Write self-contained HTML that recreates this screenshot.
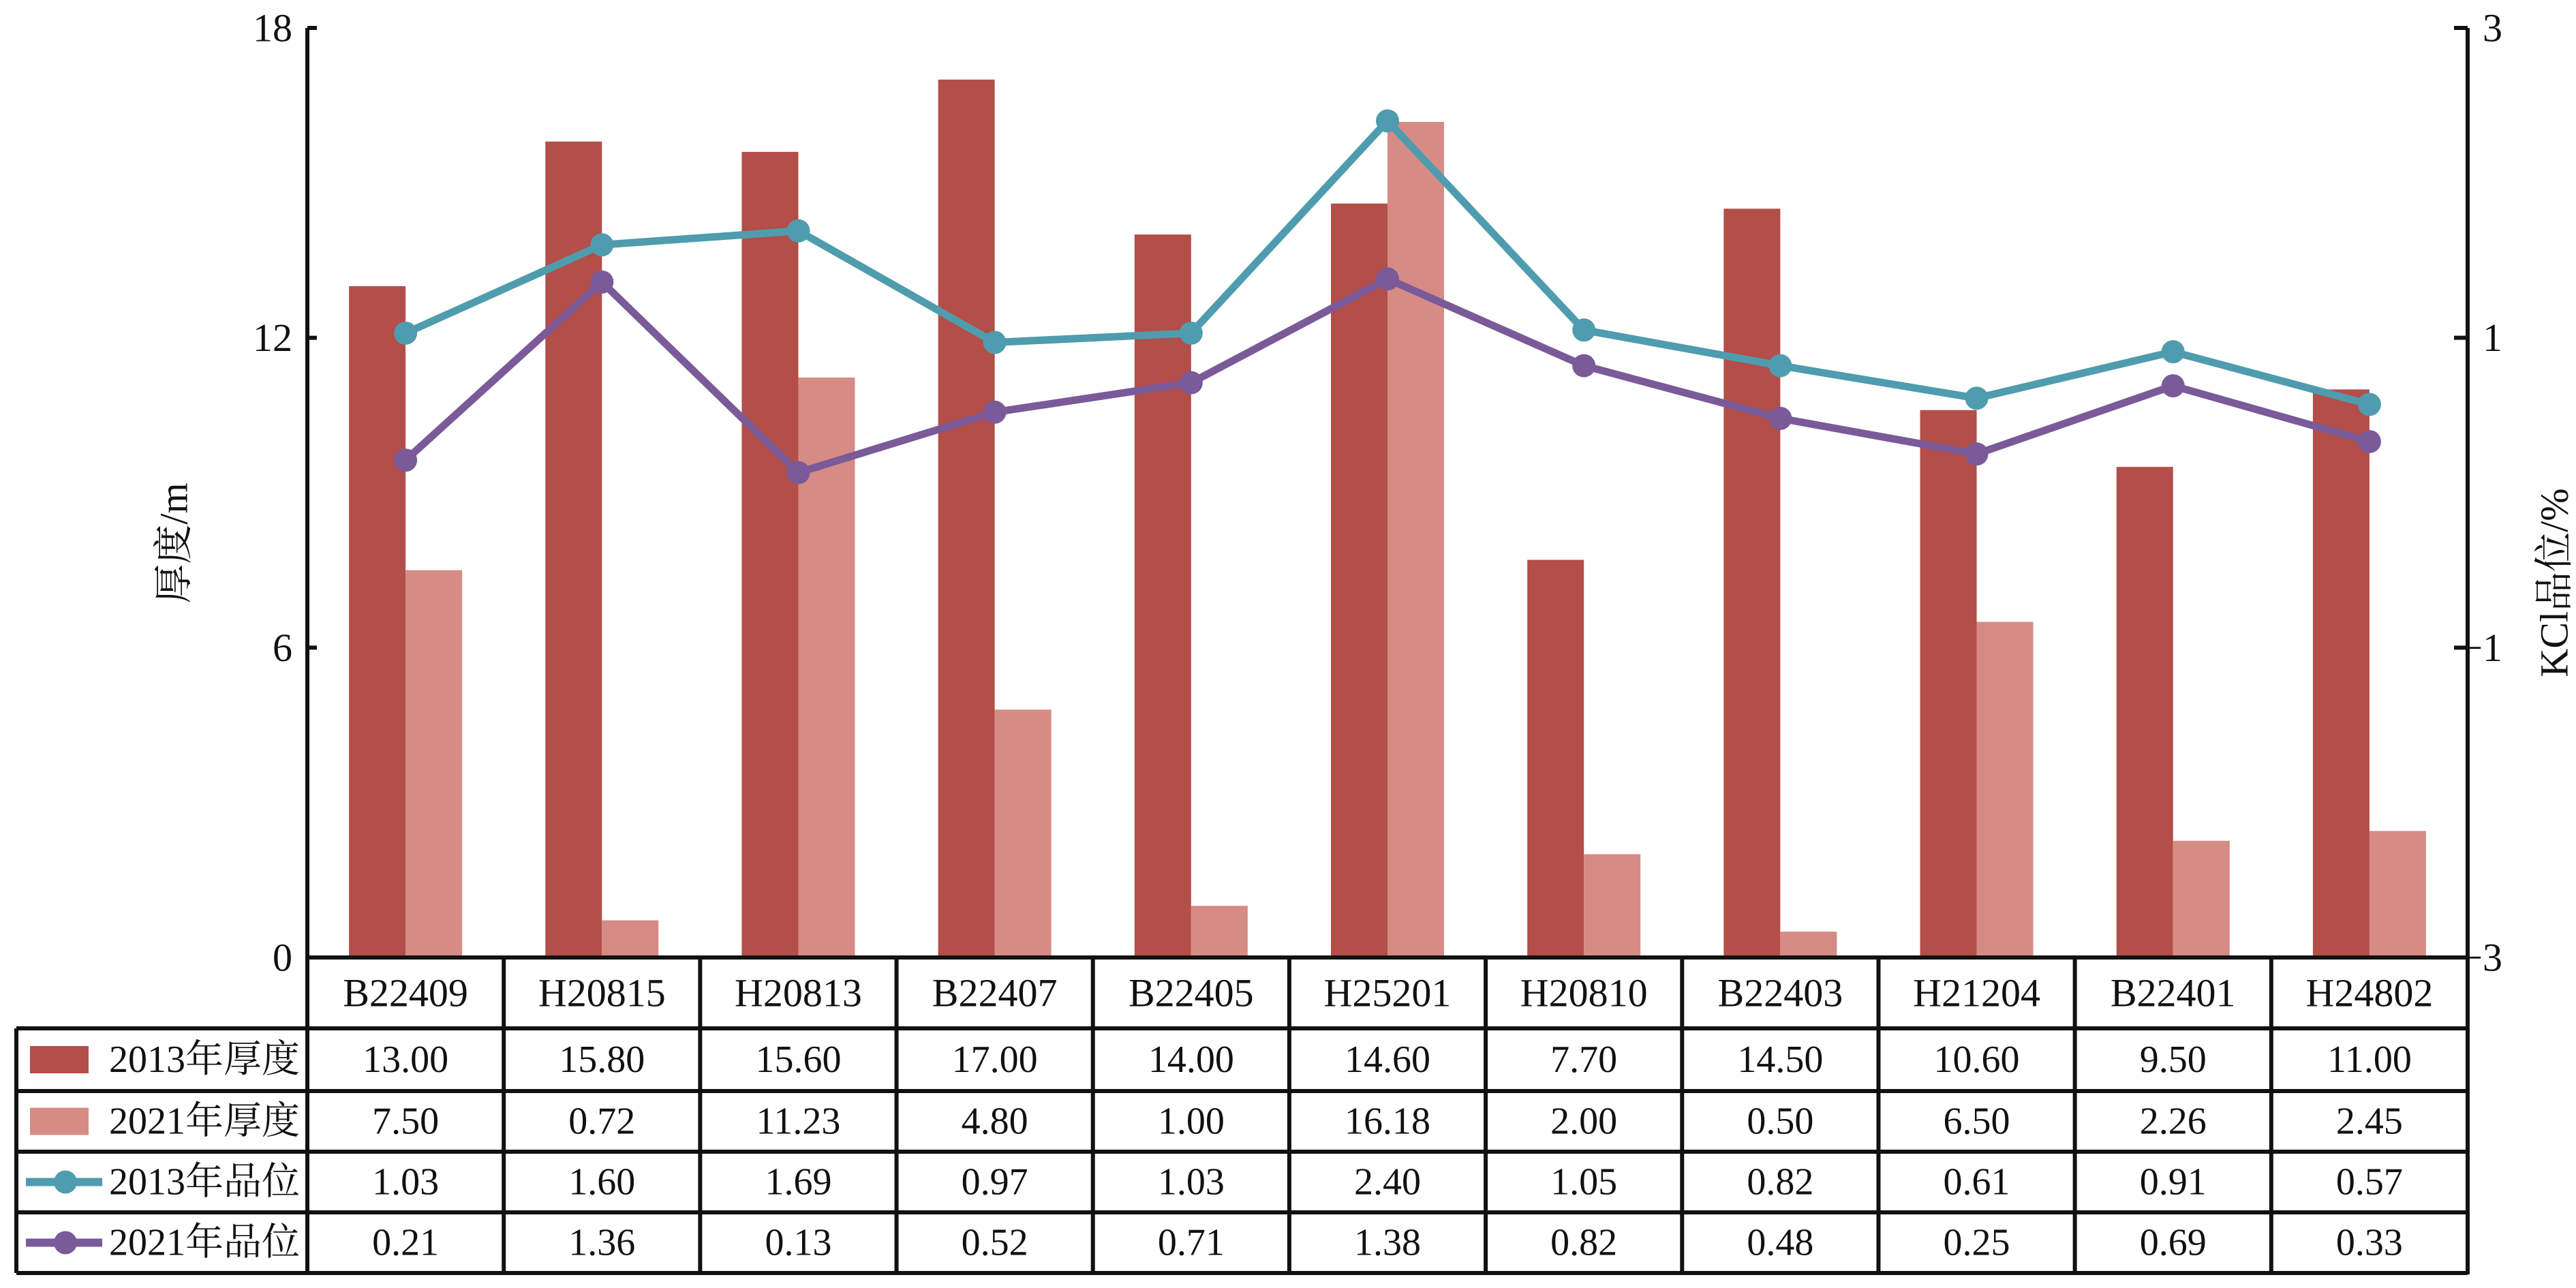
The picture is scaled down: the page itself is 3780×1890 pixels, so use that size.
<!DOCTYPE html>
<html><head><meta charset="utf-8"><style>
html,body{margin:0;padding:0;background:#fff;}
svg{display:block;font-family:"Liberation Serif","Noto Serif CJK SC",serif;}
</style></head><body>
<svg id="chart" width="3780" height="1890" viewBox="0 0 3780 1890" xmlns="http://www.w3.org/2000/svg"></svg>
<script>
const categories = ["B22409","H20815","H20813","B22407","B22405","H25201","H20810","B22403","H21204","B22401","H24802"];
const thick2013 = [13.00,15.80,15.60,17.00,14.00,14.60,7.70,14.50,10.60,9.50,11.00];
const thick2021 = [7.50,0.72,11.23,4.80,1.00,16.18,2.00,0.50,6.50,2.26,2.45];
const grade2013 = [1.03,1.60,1.69,0.97,1.03,2.40,1.05,0.82,0.61,0.91,0.57];
const grade2021 = [0.21,1.36,0.13,0.52,0.71,1.38,0.82,0.48,0.25,0.69,0.33];
const leftTicks = [0,6,12,18];
const rightTicks = [-3,-1,1,3];
const thickLabels = ["13.00","15.80","15.60","17.00","14.00","14.60","7.70","14.50","10.60","9.50","11.00"];
const thick21Labels = ["7.50","0.72","11.23","4.80","1.00","16.18","2.00","0.50","6.50","2.26","2.45"];
const g13Labels = ["1.03","1.60","1.69","0.97","1.03","2.40","1.05","0.82","0.61","0.91","0.57"];
const g21Labels = ["0.21","1.36","0.13","0.52","0.71","1.38","0.82","0.48","0.25","0.69","0.33"];

const svg = document.getElementById('chart');
const NS = 'http://www.w3.org/2000/svg';
const X0 = 451, X1 = 3621, Y0 = 1405, Y1 = 41;
const colW = (X1 - X0) / categories.length;
const yL = v => Y0 - (v - 0) / 18 * (Y0 - Y1);
const yR = v => Y0 - (v + 3) / 6 * (Y0 - Y1);
const xc = i => X0 + colW * (i + 0.5);
const C1 = '#b34e48', C2 = '#d68b85', CT = '#4f9cae', CP = '#7a5a98';
function mk(tag, attrs, parent) {
  const e = document.createElementNS(NS, tag);
  for (const k in attrs) e.setAttribute(k, attrs[k]);
  (parent || svg).appendChild(e);
  return e;
}
function txt(s, x, y, size, anchor, parent) {
  const t = mk('text', {x: x, y: y, 'font-size': size, 'text-anchor': anchor || 'middle', fill: '#111', 'dominant-baseline': 'central'}, parent);
  t.textContent = s;
  return t;
}
// bars
const bw = 83;
categories.forEach((c, i) => {
  const b1 = mk('rect', {x: xc(i) - bw, y: yL(thick2013[i]), width: bw, height: Y0 - yL(thick2013[i]), fill: C1});
  
  
  const b2 = mk('rect', {x: xc(i), y: yL(thick2021[i]), width: bw, height: Y0 - yL(thick2021[i]), fill: C2});
  
  
});
// lines
function series(vals, col, name) {
  const pts = vals.map((v, i) => xc(i) + ',' + yR(v)).join(' ');
  const l = mk('polyline', {points: pts, fill: 'none', stroke: col, 'stroke-width': 11, 'stroke-linejoin': 'round'});
  
  
  vals.forEach((v, i) => {
    const p = mk('circle', {cx: xc(i), cy: yR(v), r: 17, fill: col});
    
    
  });
}
series(grade2013, CT, 'grade-2013');
series(grade2021, CP, 'grade-2021');
// axes
const ax = mk('line', {x1: X0, y1: Y1, x2: X0, y2: Y0, stroke: '#111', 'stroke-width': 6});
 
const ax2 = mk('line', {x1: X1, y1: Y1, x2: X1, y2: 1870, stroke: '#111', 'stroke-width': 6});
 
leftTicks.forEach(v => {
  mk('line', {x1: X0, y1: yL(v), x2: X0 + 14, y2: yL(v), stroke: '#111', 'stroke-width': 6});
  const t = txt(String(v), X0 - 22, yL(v), 58, 'end');
   
});
rightTicks.forEach(v => {
  mk('line', {x1: X1 - 20, y1: yR(v), x2: X1, y2: yR(v), stroke: '#111', 'stroke-width': 6});
  const t = txt(v < 0 ? '−' + Math.abs(v) : String(v), 3672, yR(v), 58, 'end');
   
});
const lt = txt('厚度/m', 0, 0, 58, 'middle');
lt.setAttribute('transform', 'translate(255,797) rotate(-90)');
 
const rt = txt('KCl品位/%', 0, 0, 58, 'middle');
rt.setAttribute('transform', 'translate(3748,855) rotate(-90)');
 
// table
const rows = [1405, 1509, 1601, 1690, 1779, 1868];
const TL = 24;
const tg = mk('g', {});
 
const ls = {stroke: '#111', 'stroke-width': 6};
mk('line', Object.assign({x1: X0, y1: rows[0], x2: X1, y2: rows[0]}, ls), tg);
for (let r = 1; r < rows.length; r++) mk('line', Object.assign({x1: TL, y1: rows[r], x2: X1, y2: rows[r]}, ls), tg);
mk('line', Object.assign({x1: TL, y1: rows[1], x2: TL, y2: rows[5]}, ls), tg);
for (let i = 0; i <= categories.length; i++) mk('line', Object.assign({x1: X0 + colW * i, y1: rows[0], x2: X0 + colW * i, y2: rows[5]}, ls), tg);
const rowData = [thickLabels, thick21Labels, g13Labels, g21Labels];
const rowNames = ['2013年厚度', '2021年厚度', '2013年品位', '2021年品位'];
categories.forEach((c, i) => {
  const t = txt(c, xc(i), (rows[0] + rows[1]) / 2, 58, 'middle', tg);
   
  rowData.forEach((arr, r) => {
    const v = txt(arr[i], xc(i), (rows[r + 1] + rows[r + 2]) / 2, 56, 'middle', tg);
     
  });
});
rowNames.forEach((n, r) => {
  const cy = (rows[r + 1] + rows[r + 2]) / 2;
  if (r < 2) {
    mk('rect', {x: 44, y: cy - 20, width: 86, height: 40, fill: r === 0 ? C1 : C2}, tg);
  } else {
    const col = r === 2 ? CT : CP;
    mk('line', {x1: 38, y1: cy, x2: 150, y2: cy, stroke: col, 'stroke-width': 12}, tg);
    mk('circle', {cx: 96, cy: cy, r: 17, fill: col}, tg);
  }
  const t = txt(n, 440, cy, 56, 'end', tg);
   
});
</script>
</body></html>
